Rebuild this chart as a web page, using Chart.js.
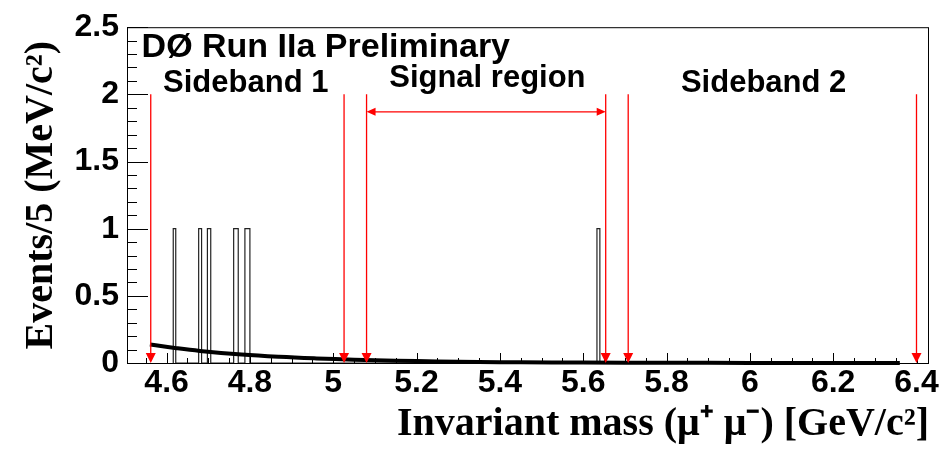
<!DOCTYPE html>
<html>
<head>
<meta charset="utf-8">
<script src="https://cdn.jsdelivr.net/npm/chart.js@4/dist/chart.umd.min.js"></script>
<style>
  html, body { margin: 0; padding: 0; background: #fff; }
  #wrap { width: 950px; height: 449px; }
</style>
</head>
<body>
<div id="wrap"><canvas id="chartContainer" width="950" height="449"></canvas></div>
<script>
// tick labels
const xTicks = [4.6, 4.8, 5.0, 5.2, 5.4, 5.6, 5.8, 6.0, 6.2, 6.4];
const yTicks = [0, 0.5, 1, 1.5, 2, 2.5];

// histogram: bin edges (GeV/c^2) and entries
const binLow  = [4.616, 4.677, 4.698, 4.761, 4.788, 5.633];
const binHigh = [4.622, 4.684, 4.706, 4.772, 4.800, 5.640];
const binCount = [1, 1, 1, 1, 1, 1];

// background fit
const fitMass = [4.56, 4.62, 4.68, 4.78, 4.87, 4.96, 5.05, 5.15, 5.25, 5.35, 5.45, 5.60, 5.80, 6.00, 6.36];
const fitValue = [0.138, 0.112, 0.090, 0.063, 0.046, 0.034, 0.025, 0.017, 0.012, 0.008, 0.005, 0.003, 0.0015, 0.0007, 0.0002];

// sideband / signal region boundaries
const cutMass = [4.562, 5.026, 5.080, 5.654, 5.708, 6.400];
const cutTop = 2.0;
const signalArrowY = 1.87;

const labels = [
    {text: 'DØ Run IIa Preliminary', x: 4.54, y: 2.35, size: 34, align: 'left'},
    {text: 'Sideband 1', x: 4.79, y: 2.08, size: 31, align: 'center'},
    {text: 'Signal region', x: 5.37, y: 2.12, size: 31, align: 'center'},
    {text: 'Sideband 2', x: 6.033, y: 2.08, size: 31, align: 'center'}
];

document.addEventListener("DOMContentLoaded", () => {
    initializeChart();
});

function histOutline() {
    const pts = [];
    for (let i = 0; i < binLow.length; i++) {
        pts.push({x: binLow[i], y: 0});
        pts.push({x: binLow[i], y: binCount[i]});
        pts.push({x: binHigh[i], y: binCount[i]});
        pts.push({x: binHigh[i], y: 0});
    }
    return pts;
}

const frameAndTicks = {
    id: 'frameAndTicks',
    afterDatasetsDraw(chart) {
        const {ctx, chartArea: a, scales: {x, y}} = chart;
        ctx.save();
        ctx.strokeStyle = '#000';
        ctx.lineWidth = 1;
        ctx.strokeRect(a.left + 0.5, a.top + 0.5, a.right - a.left - 1, a.bottom - a.top);
        ctx.beginPath();
        // x ticks (inside)
        for (let v = 4.55; v <= 6.401; v += 0.05) {
            const px = Math.round(x.getPixelForValue(v)) + 0.5;
            const major = xTicks.some(t => Math.abs(t - v) < 1e-6);
            ctx.moveTo(px, a.bottom);
            ctx.lineTo(px, a.bottom - (major ? 10 : 5));
        }
        // y ticks (inside)
        for (let v = 0; v <= 2.501; v += 0.1) {
            const py = Math.round(y.getPixelForValue(v)) + 0.5;
            const major = yTicks.some(t => Math.abs(t - v) < 1e-6);
            ctx.moveTo(a.left, py);
            ctx.lineTo(a.left + (major ? 21 : 10), py);
        }
        ctx.stroke();

        // red region arrows
        ctx.strokeStyle = '#ff0000';
        ctx.fillStyle = '#ff0000';
        ctx.lineWidth = 1.3;
        const y0 = y.getPixelForValue(0);
        const yT = y.getPixelForValue(cutTop);
        cutMass.forEach(m => {
            const px = x.getPixelForValue(m);
            ctx.beginPath();
            ctx.moveTo(px, yT);
            ctx.lineTo(px, y0 - 8);
            ctx.stroke();
            ctx.beginPath();
            ctx.moveTo(px, y0);
            ctx.lineTo(px - 5, y0 - 10);
            ctx.lineTo(px + 5, y0 - 10);
            ctx.closePath();
            ctx.fill();
        });
        const xa = x.getPixelForValue(cutMass[2]);
        const xb = x.getPixelForValue(cutMass[3]);
        const ya = y.getPixelForValue(signalArrowY);
        ctx.beginPath();
        ctx.moveTo(xa + 6, ya);
        ctx.lineTo(xb - 6, ya);
        ctx.stroke();
        ctx.beginPath();
        ctx.moveTo(xa, ya); ctx.lineTo(xa + 9, ya - 4); ctx.lineTo(xa + 9, ya + 4); ctx.closePath();
        ctx.moveTo(xb, ya); ctx.lineTo(xb - 9, ya - 4); ctx.lineTo(xb - 9, ya + 4); ctx.closePath();
        ctx.fill();

        // text labels
        ctx.fillStyle = '#000';
        ctx.textBaseline = 'middle';
        labels.forEach(l => {
            ctx.font = 'bold ' + l.size + 'px "Liberation Sans", Arial, sans-serif';
            ctx.textAlign = l.align;
            ctx.fillText(l.text, x.getPixelForValue(l.x), y.getPixelForValue(l.y));
        });
        ctx.restore();
    }
};

function initializeChart() {
    const ctx = document.getElementById('chartContainer').getContext('2d');
    const tickFont = {family: '"Liberation Sans", Arial, sans-serif', size: 32, weight: 'bold'};
    const serif = '"Liberation Serif", "Times New Roman", serif';
    const chart = new Chart(ctx, {
        type: 'line',
        data: {
            datasets: [
                {
                    label: 'fit',
                    data: fitMass.map((m, i) => ({x: m, y: fitValue[i]})),
                    borderColor: '#000',
                    borderWidth: 4,
                    pointRadius: 0,
                    tension: 0.4,
                    clip: false,
                    order: 0
                },
                {
                    label: 'data',
                    data: histOutline(),
                    borderColor: '#222',
                    borderWidth: 1.2,
                    pointRadius: 0,
                    tension: 0,
                    order: 1
                }
            ]
        },
        options: {
            responsive: false,
            animation: false,
            layout: {padding: {top: 19, right: 21, left: 0, bottom: 0}},
            plugins: {
                legend: {display: false},
                tooltip: {enabled: false}
            },
            scales: {
                x: {
                    type: 'linear',
                    min: 4.505,
                    max: 6.43,
                    grid: {display: false, drawTicks: false},
                    border: {display: false},
                    afterBuildTicks: s => { s.ticks = xTicks.map(v => ({value: v})); },
                    afterFit: s => { s.height = 86; },
                    ticks: {
                        font: tickFont,
                        color: '#000',
                        padding: 1,
                        maxRotation: 0,
                        autoSkip: false,
                        callback: v => String(+v.toFixed(2))
                    },
                    title: {
                        display: true,
                        text: 'Invariant mass (μ⁺ μ⁻) [GeV/c²]',
                        align: 'end',
                        color: '#000',
                        font: {family: serif, size: 40, weight: 'bold'},
                        padding: {top: 0, bottom: 0}
                    }
                },
                y: {
                    min: 0,
                    max: 2.5,
                    grid: {display: false, drawTicks: false},
                    border: {display: false},
                    afterBuildTicks: s => { s.ticks = yTicks.map(v => ({value: v})); },
                    afterFit: s => { s.width = 127; },
                    ticks: {
                        font: tickFont,
                        color: '#000',
                        padding: 8,
                        callback: v => String(+v.toFixed(2))
                    },
                    title: {
                        display: true,
                        text: 'Events/5 (MeV/c²)',
                        color: '#000',
                        font: {family: serif, size: 40, weight: 'bold'},
                        padding: {top: 18, bottom: 0}
                    }
                }
            }
        },
        plugins: [frameAndTicks]
    });
}
</script>
</body>
</html>
